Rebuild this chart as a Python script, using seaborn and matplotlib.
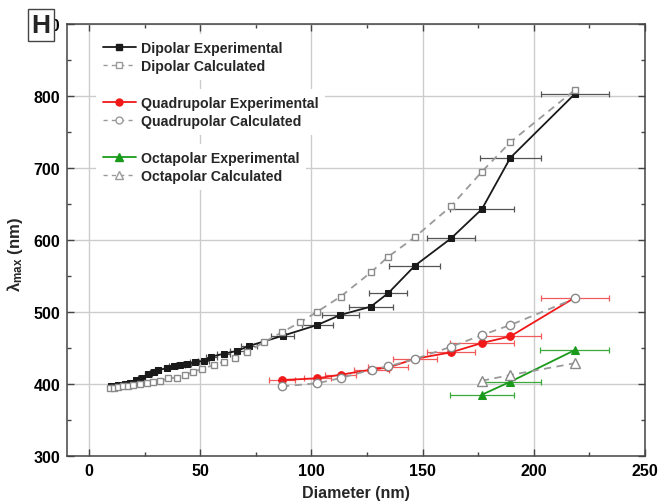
import numpy as np
import pandas as pd
import matplotlib
matplotlib.use('Agg')
import matplotlib.pyplot as plt
import seaborn as sns
from matplotlib.lines import Line2D
from matplotlib.ticker import MultipleLocator

# ---------------- data ----------------
dip_exp_x = [10, 13, 16, 18.5, 21, 23.6, 26.6, 29, 31, 35, 38, 41, 44, 47.5, 51.5, 55,
             60.5, 66.5, 72, 87, 102.6, 113, 126.7, 134.6, 146.5, 162.8, 176.7, 189.5, 218.5]
dip_exp_y = [397, 398, 399.5, 402, 405, 409, 414, 417, 419.5, 422, 424.5, 426.5, 428.5, 430,
             432.5, 438, 442, 446, 453, 467, 482, 496, 507.5, 526.4, 564.3, 602.3, 643, 714.3, 803]
dip_exp_xerr = [1, 1, 1, 1, 1, 1.5, 1.5, 1.5, 1.5, 1.5, 2, 2, 2, 2, 2.5, 2.5,
                3, 3, 3.5, 5, 7, 8.3, 10, 8.6, 11.5, 10.8, 14.5, 13.7, 15.4]

dip_calc_x = [9.3, 11.3, 13.1, 15.3, 17.6, 19.9, 22.9, 25.9, 28.9, 31.9, 35.6, 39.4, 43.2, 46.9,
              50.7, 56, 60.5, 65.7, 71, 78.5, 86.8, 95, 102.6, 113.1, 126.7, 134.6, 146.5,
              162.8, 176.7, 189.5, 218.7]
dip_calc_y = [394, 395, 395.8, 396.8, 397.7, 398.6, 400, 401.4, 402.3, 403.7, 407.9, 409, 412.5,
              417, 421, 426.4, 431, 435.7, 444, 458, 472, 486, 500.4, 521.5, 555, 577, 604,
              647, 695, 736, 809]

quad_exp_x = [86.8, 102.6, 113.1, 127, 134.6, 146.5, 162.8, 176.7, 189.5, 218.5]
quad_exp_y = [405.6, 407.9, 412.9, 420, 423, 435, 444, 457, 466.2, 520]
quad_exp_xerr = [6, 6, 7, 8, 9, 10, 10.8, 14.5, 13.7, 15.4]

quad_calc_x = [86.8, 102.6, 113.1, 127.1, 134.6, 146.5, 162.8, 176.7, 189.5, 218.7]
quad_calc_y = [396.8, 401, 408.3, 419.9, 424.6, 434.7, 451.8, 468, 482, 519]

oct_exp_x = [176.7, 189.5, 218.4]
oct_exp_y = [385.2, 403.2, 447]
oct_exp_xerr = [14.5, 13.7, 15.4]

oct_calc_x = [176.7, 189.5, 218.7]
oct_calc_y = [404.6, 412.5, 429]

legend_labels = ["Dipolar Experimental", "Dipolar Calculated",
                 "Quadrupolar Experimental", "Quadrupolar Calculated",
                 "Octapolar Experimental", "Octapolar Calculated"]

x_ticks = [0, 50, 100, 150, 200, 250]
y_ticks = [300, 400, 500, 600, 700, 800, 900]

# ---------------- style ----------------
sns.set_theme(style='ticks')
plt.rcParams['font.family'] = ['Liberation Sans', 'DejaVu Sans']
plt.rcParams['font.weight'] = 'bold'
plt.rcParams['mathtext.fontset'] = 'custom'
plt.rcParams['mathtext.rm'] = 'Liberation Sans:bold'
plt.rcParams['mathtext.bf'] = 'Liberation Sans:bold'
plt.rcParams['mathtext.it'] = 'Liberation Sans:bold'

BLACK = '#1a1a1a'
GRAY = '#9a9a9a'
RED = '#f01818'
GREEN = '#1a9a1a'

fig = plt.figure(figsize=(6.6, 5.02), dpi=100)
ax = fig.add_axes([0.1015, 0.0896, 0.8755, 0.8604])

def exp_series(x, y, xerr, color, marker, ms, ecolor):
    ax.errorbar(x, y, xerr=xerr, fmt='none', ecolor=ecolor, elinewidth=0.9,
                capsize=2, capthick=0.9, zorder=2)
    df = pd.DataFrame({'x': x, 'y': y})
    sns.lineplot(data=df, x='x', y='y', sort=False, estimator=None, ax=ax,
                 color=color, lw=1.3, marker=marker, markersize=ms,
                 markerfacecolor=color, markeredgecolor=color, zorder=3)

def calc_series(x, y, marker, ms):
    df = pd.DataFrame({'x': x, 'y': y})
    sns.lineplot(data=df, x='x', y='y', sort=False, estimator=None, ax=ax,
                 color=GRAY, lw=1.3, linestyle=(0, (4, 3)), marker=marker, markersize=ms,
                 markerfacecolor='white', markeredgecolor='#8a8a8a', markeredgewidth=1.0,
                 zorder=4)

exp_series(dip_exp_x, dip_exp_y, dip_exp_xerr, BLACK, 's', 4.3, '#555555')
exp_series(quad_exp_x, quad_exp_y, quad_exp_xerr, RED, 'o', 5.5, '#f05a5a')
exp_series(oct_exp_x, oct_exp_y, oct_exp_xerr, GREEN, '^', 6, '#3aaa3a')
calc_series(dip_calc_x, dip_calc_y, 's', 4.8)
calc_series(quad_calc_x, quad_calc_y, 'o', 6)
calc_series(oct_calc_x, oct_calc_y, '^', 6.5)

# ---------------- axes ----------------
ax.set_xlim(-10, 250)
ax.set_ylim(300, 900)
ax.set_xticks(x_ticks)
ax.set_yticks(y_ticks)
ax.xaxis.set_minor_locator(MultipleLocator(25))
ax.yaxis.set_minor_locator(MultipleLocator(50))
ax.set_axisbelow(True)
ax.grid(True, which='major', color='#cccccc', lw=1.0)
ax.tick_params(which='both', direction='in', top=True, right=True, colors='#444444',
               labelcolor='black', labelsize=11.5)
ax.tick_params(which='major', length=5, width=1, pad=5)
ax.tick_params(which='minor', length=3, width=1)
for lab in ax.get_xticklabels() + ax.get_yticklabels():
    lab.set_fontweight('bold')
for s in ax.spines.values():
    s.set_color('#444444')
    s.set_linewidth(1.1)

ax.set_xlabel('Diameter (nm)', fontsize=11.5, fontweight='bold', labelpad=5)
ax.set_ylabel('λ$_{max}$ (nm)', fontsize=12, fontweight='bold')
ax.yaxis.set_label_coords(-0.073, 0.468)

# ---------------- legend (three groups) ----------------
def h_exp(color, marker, ms):
    return Line2D([], [], color=color, lw=1.3, marker=marker, markersize=ms,
                  markerfacecolor=color, markeredgecolor=color)

def h_calc(marker, ms):
    return Line2D([], [], color=GRAY, lw=1.0, linestyle=(0, (3, 3)), marker=marker,
                  markersize=ms, markerfacecolor='white', markeredgecolor=GRAY)

groups = [([h_exp(BLACK, 's', 4), h_calc('s', 4.5)], legend_labels[0:2], 0.977),
          ([h_exp(RED, 'o', 5), h_calc('o', 5)], legend_labels[2:4], 0.8497),
          ([h_exp(GREEN, '^', 5.5), h_calc('^', 5.5)], legend_labels[4:6], 0.7224)]
for hs, ls, ytop in groups:
    lg = ax.legend(hs, ls, loc='upper left', bbox_to_anchor=(0.05, ytop),
                   frameon=True, facecolor='white', edgecolor='none', framealpha=1,
                   handlelength=2.3, handletextpad=0.35, labelspacing=0.3,
                   borderaxespad=0, borderpad=0.5, prop={'weight': 'bold', 'size': 10.2})
    ax.add_artist(lg)

# ---------------- panel label ----------------
fig.text(0.062, 0.948, 'H', fontsize=19, fontweight='bold', ha='center', va='center',
         bbox=dict(boxstyle='square,pad=0.14', facecolor='white', edgecolor='#444444', lw=1.0),
         zorder=10)

fig.savefig('out.png', dpi=100)
